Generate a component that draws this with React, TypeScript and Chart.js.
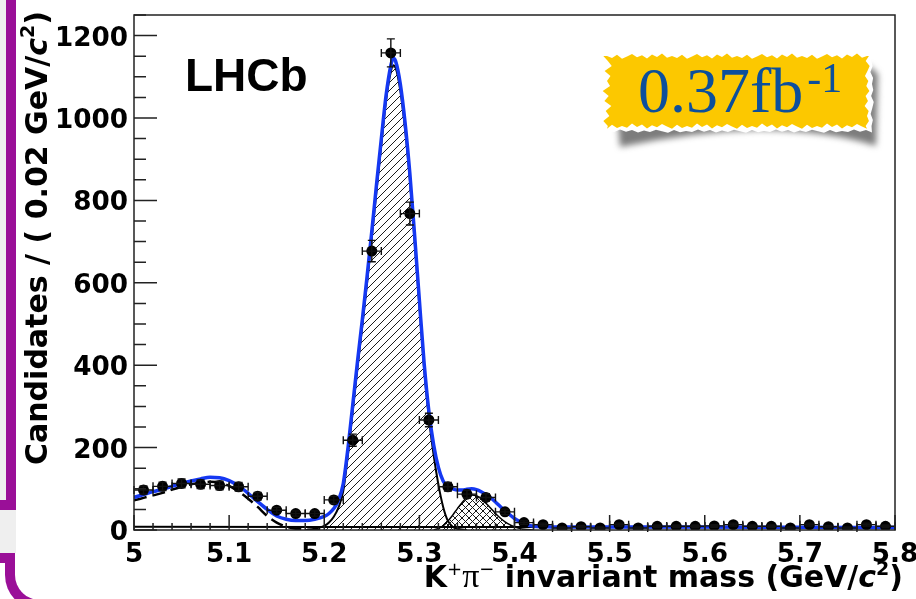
import { useEffect, useRef } from "react";
import { Chart, registerables } from "chart.js";

Chart.register(...registerables);

// K+π− candidates per 0.02 GeV/c² bin
const binCentres = [
  5.01, 5.03, 5.05, 5.07, 5.09, 5.11, 5.13, 5.15, 5.17, 5.19,
  5.21, 5.23, 5.25, 5.27, 5.29, 5.31, 5.33, 5.35, 5.37, 5.39,
  5.41, 5.43, 5.45, 5.47, 5.49, 5.51, 5.53, 5.55, 5.57, 5.59,
  5.61, 5.63, 5.65, 5.67, 5.69, 5.71, 5.73, 5.75, 5.77, 5.79,
];
const candidates = [
  97, 106, 113, 111, 108, 105, 82, 48, 40, 40,
  73, 218, 677, 1158, 768, 267, 105, 87, 79, 44,
  18, 13, 5, 8, 5, 13, 5, 9, 9, 9,
  10, 13, 9, 9, 5, 13, 8, 5, 13, 9,
];
const BIN_HALF_WIDTH = 0.01;

// Total fit
const totalFitMass = [
  5.0, 5.01, 5.02, 5.03, 5.04, 5.05, 5.06, 5.07, 5.08, 5.09, 5.1, 5.11, 5.12, 5.13, 5.14, 5.15, 5.16, 5.17, 5.18, 5.19, 5.2,
  5.205, 5.21, 5.215, 5.22, 5.225, 5.23, 5.235, 5.24, 5.245, 5.25, 5.255, 5.26, 5.265, 5.27, 5.2725, 5.275, 5.28, 5.285,
  5.29, 5.295, 5.3, 5.305, 5.31, 5.315, 5.32, 5.325, 5.33, 5.335, 5.34, 5.345, 5.35, 5.355, 5.36, 5.365, 5.37, 5.375,
  5.38, 5.385, 5.39, 5.395, 5.4, 5.405, 5.41,
  5.42, 5.43, 5.45, 5.5, 5.6, 5.7, 5.8,
];
const totalFitValues = [
  79, 86, 93, 99, 106, 113, 119, 124, 128, 127, 120, 107, 89, 69, 50, 34, 26, 23, 23, 26, 33,
  40, 52, 72, 113, 200, 305, 410, 510, 615, 725, 840, 950, 1055, 1128, 1145, 1138, 1082, 988,
  865, 715, 558, 405, 288, 207, 152, 119, 105, 100, 97, 97, 99, 100, 98, 93, 86, 78,
  68, 57, 47, 37, 28, 21, 15,
  9, 8, 7, 7, 7, 6.5, 6,
];

// B0 → K+π− signal component (hatched)
const signalMass = [
  5.18, 5.19, 5.2, 5.205, 5.21, 5.215, 5.22, 5.225, 5.23, 5.235, 5.24, 5.245, 5.25, 5.255, 5.26, 5.265, 5.27,
  5.2725, 5.275, 5.28, 5.285, 5.29, 5.295, 5.3, 5.305, 5.31, 5.315, 5.32, 5.325, 5.33, 5.335, 5.34, 5.35,
];
const signalValues = [
  0, 3, 10, 18, 32, 55, 95, 185, 290, 395, 495, 600, 710, 825, 935, 1042, 1112,
  1128, 1122, 1066, 972, 850, 700, 545, 390, 272, 182, 110, 56, 22, 8, 3, 0,
];

// Bs → K−π+ component (cross-hatched)
const bsMass = [
  5.315, 5.32, 5.325, 5.33, 5.335, 5.34, 5.345, 5.35, 5.355, 5.36, 5.365,
  5.37, 5.375, 5.38, 5.385, 5.39, 5.395, 5.4, 5.405, 5.41, 5.42,
];
const bsValues = [0, 4, 10, 22, 36, 52, 67, 79, 85, 83, 76, 65, 53, 40, 29, 20, 13, 8, 4, 2, 0];

// Partially reconstructed background (dashed)
const partialMass = [
  5.0, 5.01, 5.02, 5.03, 5.04, 5.05, 5.06, 5.07, 5.08, 5.09,
  5.1, 5.11, 5.12, 5.13, 5.14, 5.15, 5.16, 5.17, 5.18, 5.2,
];
const partialValues = [72, 78, 84, 90, 98, 105, 111, 115, 117, 115, 107, 93, 76, 56, 34, 18, 8, 3, 1, 0];

// Combinatorial background (thin solid)
const combMass = [5.0, 5.2, 5.4, 5.6, 5.8];
const combValues = [8, 7.5, 7, 6.5, 6];

// Axis ticks
const xMajor = [5.0, 5.1, 5.2, 5.3, 5.4, 5.5, 5.6, 5.7, 5.8];
const xTickLabels = ["5", "5.1", "5.2", "5.3", "5.4", "5.5", "5.6", "5.7", "5.8"];
const yMajor = [0, 200, 400, 600, 800, 1000, 1200];
const yTickLabels = ["0", "200", "400", "600", "800", "1000", "1200"];
const X_MIN = 5.0;
const X_MAX = 5.8;
const Y_MAX = 1250;

const PURPLE = "#9a0f98";
const FIT_BLUE = "#1538f2";
const AXIS_FONT = '"DejaVu Sans"';
// tick labels are set in a wide bold face: "1200" spans this many pixels
const TICK_LABEL_WIDTH_1200 = 73;

const toXY = (xs: number[], ys: number[]) => xs.map((x, i) => ({ x, y: ys[i] }));

function makeHatch(size: number, cross: boolean) {
  const c = document.createElement("canvas");
  c.width = size;
  c.height = size;
  const g = c.getContext("2d")!;
  g.strokeStyle = "#1a1a1a";
  g.lineWidth = 1;
  g.beginPath();
  g.moveTo(-1, size + 1);
  g.lineTo(size + 1, -1);
  g.moveTo(-1, 1);
  g.lineTo(1, -1);
  g.moveTo(size - 1, size + 1);
  g.lineTo(size + 1, size - 1);
  if (cross) {
    g.moveTo(-1, -1);
    g.lineTo(size + 1, size + 1);
    g.moveTo(size - 1, -1);
    g.lineTo(size + 1, 1);
    g.moveTo(-1, size - 1);
    g.lineTo(1, size + 1);
  }
  g.stroke();
  return g.createPattern(c, "repeat")!;
}

type Seg = { text: string; font: string; dy?: number };

function drawRich(ctx: CanvasRenderingContext2D, segs: Seg[], x: number, y: number) {
  let cx = x;
  for (const s of segs) {
    ctx.font = s.font;
    ctx.fillText(s.text, cx, y + (s.dy ?? 0));
    cx += ctx.measureText(s.text).width;
  }
}
function richWidth(ctx: CanvasRenderingContext2D, segs: Seg[]) {
  let w = 0;
  for (const s of segs) {
    ctx.font = s.font;
    w += ctx.measureText(s.text).width;
  }
  return w;
}

const JAG = [0, 1.6, -1.1, 2.2, 0.4, -1.7, 1.1, -0.6, 2.0, -1.2, 0.8, -2.0, 1.4];
function tornRect(ctx: CanvasRenderingContext2D, x0: number, y0: number, x1: number, y1: number, amp: number, step: number) {
  let k = 0;
  const j = () => JAG[k++ % JAG.length] * amp;
  ctx.beginPath();
  ctx.moveTo(x0, y0);
  for (let x = x0; x <= x1; x += step) ctx.lineTo(x, y0 + j());
  for (let y = y0; y <= y1; y += step) ctx.lineTo(x1 + j(), y);
  for (let x = x1; x >= x0; x -= step) ctx.lineTo(x, y1 + j());
  for (let y = y1; y >= y0; y -= step) ctx.lineTo(x0 + j() * 1.8, y);
  ctx.closePath();
}

const errorBars = {
  id: "errorBars",
  afterDatasetsDraw(chart: any) {
    const { ctx, scales } = chart;
    const xs = scales.x;
    const ys = scales.y;
    ctx.save();
    ctx.strokeStyle = "#111";
    ctx.lineWidth = 1.4;
    const cap = 4;
    binCentres.forEach((m, i) => {
      const n = candidates[i];
      const err = Math.sqrt(n);
      const px = xs.getPixelForValue(m);
      const py = ys.getPixelForValue(n);
      const xl = xs.getPixelForValue(m - BIN_HALF_WIDTH);
      const xr = xs.getPixelForValue(m + BIN_HALF_WIDTH);
      const yt = ys.getPixelForValue(n + err);
      const yb = ys.getPixelForValue(Math.max(0, n - err));
      ctx.beginPath();
      ctx.moveTo(xl, py);
      ctx.lineTo(xr, py);
      ctx.moveTo(xl, py - cap);
      ctx.lineTo(xl, py + cap);
      ctx.moveTo(xr, py - cap);
      ctx.lineTo(xr, py + cap);
      ctx.moveTo(px, yt);
      ctx.lineTo(px, yb);
      ctx.moveTo(px - cap, yt);
      ctx.lineTo(px + cap, yt);
      ctx.moveTo(px - cap, yb);
      ctx.lineTo(px + cap, yb);
      ctx.stroke();
    });
    ctx.restore();
  },
};

function drawStretched(ctx: CanvasRenderingContext2D, text: string, x: number, y: number, sx: number, align: "left" | "center" | "right") {
  const w = ctx.measureText(text).width * sx;
  const x0 = align === "left" ? x : align === "center" ? x - w / 2 : x - w;
  ctx.save();
  ctx.translate(x0, y);
  ctx.scale(sx, 1);
  ctx.textAlign = "left";
  ctx.fillText(text, 0, 0);
  ctx.restore();
}

const frameAndTicks = {
  id: "frameAndTicks",
  afterDatasetsDraw(chart: any) {
    const { ctx, chartArea, scales } = chart;
    const { left, right, top, bottom } = chartArea;
    ctx.save();
    ctx.strokeStyle = "#222";
    ctx.lineWidth = 1.5;
    ctx.strokeRect(left, top, right - left, bottom - top);
    ctx.beginPath();
    for (let v = 0; v <= Y_MAX; v += 50) {
      const y = scales.y.getPixelForValue(v);
      const len = v % 200 === 0 ? 23 : 12;
      ctx.moveTo(left, y);
      ctx.lineTo(left + len, y);
    }
    for (let k = 0; k <= 40; k++) {
      const x = scales.x.getPixelForValue(X_MIN + k * 0.02);
      const len = k % 5 === 0 ? 15 : 7;
      ctx.moveTo(x, bottom);
      ctx.lineTo(x, bottom - len);
    }
    ctx.stroke();

    // tick labels
    ctx.fillStyle = "#000";
    ctx.font = `bold 27px ${AXIS_FONT}`;
    ctx.textBaseline = "alphabetic";
    const sx = TICK_LABEL_WIDTH_1200 / ctx.measureText("1200").width;
    yMajor.forEach((v, i) => {
      drawStretched(ctx, yTickLabels[i], left - 6, scales.y.getPixelForValue(v) + 10, sx, "right");
    });
    xMajor.forEach((v, i) => {
      drawStretched(ctx, xTickLabels[i], scales.x.getPixelForValue(v), bottom + 32, sx, "center");
    });
    ctx.restore();
  },
};

const annotations = {
  id: "annotations",
  afterDraw(chart: any) {
    const { ctx } = chart;
    ctx.save();
    ctx.fillStyle = "#000";
    ctx.textBaseline = "alphabetic";
    ctx.textAlign = "left";

    // y-axis title
    const ySegs: Seg[] = [
      { text: "Candidates / ( 0.02 GeV/", font: `bold 30px ${AXIS_FONT}` },
      { text: "c", font: `italic bold 30px ${AXIS_FONT}` },
      { text: "2", font: `bold 19px ${AXIS_FONT}`, dy: -13 },
      { text: ")", font: `bold 30px ${AXIS_FONT}` },
    ];
    ctx.save();
    ctx.translate(47, 465);
    ctx.rotate(-Math.PI / 2);
    drawRich(ctx, ySegs, 0, 0);
    ctx.restore();

    // x-axis title
    const xSegs: Seg[] = [
      { text: "K", font: `bold 30px ${AXIS_FONT}` },
      { text: "+", font: `18px ${AXIS_FONT}`, dy: -12 },
      { text: "π", font: `34px "Liberation Serif"` },
      { text: "−", font: `18px ${AXIS_FONT}`, dy: -12 },
      { text: " invariant mass (GeV/", font: `bold 30px ${AXIS_FONT}` },
      { text: "c", font: `italic bold 30px ${AXIS_FONT}` },
      { text: "2", font: `bold 19px ${AXIS_FONT}`, dy: -12 },
      { text: ")", font: `bold 30px ${AXIS_FONT}` },
    ];
    const w = richWidth(ctx, xSegs);
    drawRich(ctx, xSegs, 903 - w, 587);

    // experiment label
    ctx.font = 'bold 46px "Liberation Sans"';
    ctx.fillText("LHCb", 185, 91);

    // luminosity badge
    ctx.save();
    ctx.filter = "blur(3px)";
    ctx.fillStyle = "rgba(80,80,80,0.75)";
    ctx.beginPath();
    ctx.moveTo(618, 124);
    ctx.lineTo(620, 147);
    ctx.quadraticCurveTo(690, 132, 760, 130);
    ctx.quadraticCurveTo(830, 131, 876, 146);
    ctx.lineTo(878, 74);
    ctx.lineTo(867, 64);
    ctx.lineTo(866, 124);
    ctx.closePath();
    ctx.fill();
    ctx.restore();

    ctx.fillStyle = "#ffffff";
    tornRect(ctx, 602, 48, 872, 131, 0.8, 6);
    ctx.fill();
    ctx.fillStyle = "#fcc800";
    tornRect(ctx, 607, 56, 867, 126, 1.2, 5);
    ctx.fill();

    ctx.fillStyle = "#0c4f9c";
    ctx.font = '64px "Liberation Serif"';
    ctx.fillText("0.37fb", 638, 112);
    const bw = ctx.measureText("0.37fb").width;
    ctx.font = '42px "Liberation Serif"';
    ctx.fillText("-1", 638 + bw + 4, 92);
    ctx.restore();
  },
};

export default function App() {
  const ref = useRef<HTMLCanvasElement>(null);

  useEffect(() => {
    const canvas = ref.current!;
    const hatch = makeHatch(8, false);
    const crossHatch = makeHatch(7, true);

    const chart = new Chart(canvas, {
      type: "line",
      data: {
        datasets: [
          {
            label: "data",
            data: toXY(binCentres, candidates),
            showLine: false,
            pointRadius: 5.5,
            pointBackgroundColor: "#000",
            pointBorderWidth: 0,
            order: 0,
          },
          {
            label: "total fit",
            data: toXY(totalFitMass, totalFitValues),
            borderColor: FIT_BLUE,
            borderWidth: 3.5,
            pointRadius: 0,
            cubicInterpolationMode: "monotone",
            fill: false,
            order: 1,
          },
          {
            label: "partially reconstructed",
            data: toXY(partialMass, partialValues),
            borderColor: "#000",
            borderWidth: 2.5,
            borderDash: [13, 6],
            pointRadius: 0,
            cubicInterpolationMode: "monotone",
            fill: false,
            order: 2,
          },
          {
            label: "combinatorial",
            data: toXY(combMass, combValues),
            borderColor: "#000",
            borderWidth: 2,
            pointRadius: 0,
            fill: false,
            order: 3,
          },
          {
            label: "Bs",
            data: toXY(bsMass, bsValues),
            borderColor: "#000",
            borderWidth: 1.5,
            backgroundColor: crossHatch,
            pointRadius: 0,
            cubicInterpolationMode: "monotone",
            fill: "origin",
            order: 4,
          },
          {
            label: "B0",
            data: toXY(signalMass, signalValues),
            borderColor: "#000",
            borderWidth: 2,
            backgroundColor: hatch,
            pointRadius: 0,
            cubicInterpolationMode: "monotone",
            fill: "origin",
            order: 5,
          },
        ],
      },
      options: {
        responsive: false,
        animation: false,
        events: [],
        layout: { padding: { top: 15, right: 21, left: 0, bottom: 0 } },
        plugins: { legend: { display: false }, tooltip: { enabled: false } },
        scales: {
          x: {
            type: "linear",
            min: X_MIN,
            max: X_MAX,
            border: { display: false },
            grid: { display: false, drawTicks: false },
            afterBuildTicks: (scale: any) => {
              scale.ticks = xMajor.map((value) => ({ value }));
            },
            afterFit: (scale: any) => {
              scale.height = 69;
              scale.paddingLeft = 0;
              scale.paddingRight = 0;
            },
            ticks: { display: false },
          },
          y: {
            type: "linear",
            min: 0,
            max: Y_MAX,
            border: { display: false },
            grid: { display: false, drawTicks: false },
            afterBuildTicks: (scale: any) => {
              scale.ticks = yMajor.map((value) => ({ value }));
            },
            afterFit: (scale: any) => {
              scale.width = 134;
              scale.paddingTop = 0;
              scale.paddingBottom = 0;
            },
            ticks: { display: false },
          },
        },
      },
      plugins: [errorBars, frameAndTicks, annotations],
    } as any);

    return () => chart.destroy();
  }, []);

  return (
    <div style={{ position: "absolute", left: 0, top: 0, width: 916, height: 599, background: "#fff", overflow: "hidden" }}>
      <div style={{ position: "absolute", left: 0, top: 0, width: 6, height: 500, background: "#efefef" }} />
      <div style={{ position: "absolute", left: 6, top: 0, width: 10, height: 510, background: PURPLE }} />
      <div style={{ position: "absolute", left: 0, top: 500, width: 16, height: 10, background: PURPLE }} />
      <div style={{ position: "absolute", left: 0, top: 510, width: 16, height: 43, background: "#efefef" }} />
      <div style={{ position: "absolute", left: 0, top: 553, width: 15, height: 10, background: PURPLE }} />
      <div
        style={{
          position: "absolute",
          left: 5,
          top: 553,
          width: 300,
          height: 57,
          boxSizing: "border-box",
          borderLeft: `10px solid ${PURPLE}`,
          borderBottom: `10px solid ${PURPLE}`,
          borderBottomLeftRadius: 35,
        }}
      />
      <canvas ref={ref} width={916} height={599} style={{ position: "absolute", left: 0, top: 0 }} />
    </div>
  );
}
